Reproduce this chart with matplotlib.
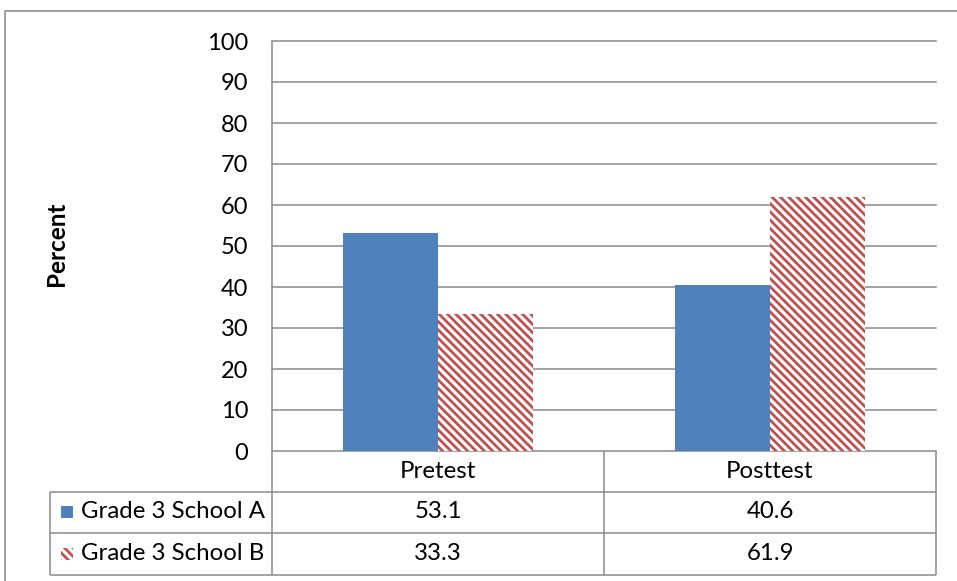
import matplotlib
matplotlib.use("Agg")
import numpy as np
import matplotlib.pyplot as plt
from matplotlib.patches import Rectangle
from matplotlib.transforms import blended_transform_factory

# ---- data ----
categories = ["Pretest", "Posttest"]
series_names = ["Grade 3 School A", "Grade 3 School B"]
school_a = [53.1, 40.6]
school_b = [33.3, 61.9]
y_ticks = [0, 10, 20, 30, 40, 50, 60, 70, 80, 90, 100]

BLUE = "#4F81BD"
RED = "#C0504D"
GRID = "#8A8A8A"
HATCH = "\\\\\\\\"

plt.rcParams["font.family"] = ["Lato", "DejaVu Sans"]
plt.rcParams["hatch.linewidth"] = 2.0

W, H = 957, 581
fig = plt.figure(figsize=(W / 100, H / 100), dpi=100)


def fx(px):
    return px / W


def fy(py):
    return 1 - py / H


# main plotting area
ax = fig.add_axes([fx(272), fy(451), fx(936) - fx(272), fy(41) - fy(451)])
x = np.arange(len(categories))
w = 0.286
ax.bar(x - w / 2, school_a, w, color=BLUE, zorder=2)
ax.bar(x + w / 2, school_b, w, facecolor="white", edgecolor=RED,
       hatch=HATCH, linewidth=0, zorder=2)
ax.set_xlim(-0.5, len(categories) - 0.5)
ax.set_ylim(0, 100)
for t in y_ticks:
    ax.axhline(t, color=GRID, lw=1.1, zorder=1, clip_on=False)
ax.set_yticks(y_ticks)
ax.set_xticks([])
ax.tick_params(axis="y", length=0, pad=17, labelsize=17, colors="black")
for s in ax.spines.values():
    s.set_visible(False)

# overlay in pixel coordinates for the data table and frame
ov = fig.add_axes([0, 0, 1, 1], zorder=5)
ov.set_xlim(0, W)
ov.set_ylim(H, 0)
ov.axis("off")

line_kw = dict(color=GRID, lw=1.1, solid_capstyle="butt")
for yy in (492, 533, 575):
    ov.plot([50, 936], [yy, yy], **line_kw)
ov.plot([50, 50], [492, 575], **line_kw)
ov.plot([272, 272], [41, 575], **line_kw)
ov.plot([604, 604], [451, 575], **line_kw)
ov.plot([936, 936], [451, 575], **line_kw)

# outer frame
ov.plot([5, 5, W], [H, 11, 11], color="#A0A0A0", lw=1.4)

# table text: x from data positions, y in pixels
tr = blended_transform_factory(ax.transData, ov.transData)
row_y = [471, 512, 554]
fs = 17.3
for i, cat in enumerate(categories):
    ov.text(x[i], row_y[0], cat, transform=tr, ha="center", va="center",
            fontsize=fs)
    ov.text(x[i], row_y[1], f"{school_a[i]:.1f}", transform=tr,
            ha="center", va="center", fontsize=fs)
    ov.text(x[i], row_y[2], f"{school_b[i]:.1f}", transform=tr,
            ha="center", va="center", fontsize=fs)

# legend keys inside the table
ov.add_patch(Rectangle((61, 506), 12, 12, facecolor=BLUE, edgecolor="none"))
ov.add_patch(Rectangle((61, 548), 12, 12, facecolor="white", edgecolor=RED,
                       hatch=HATCH, linewidth=0))
ov.text(81, row_y[1], series_names[0], ha="left", va="center", fontsize=fs)
ov.text(81, row_y[2], series_names[1], ha="left", va="center", fontsize=fs)

# axis title
fig.text(fx(57), fy(244), "Percent", rotation=90, ha="center", va="center",
         fontsize=17.5, fontweight="bold")

fig.savefig("out.png", dpi=100, facecolor="white")
